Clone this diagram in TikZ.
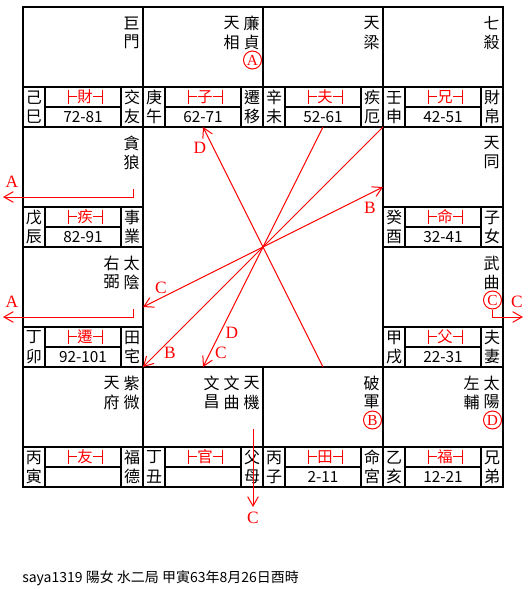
\documentclass[tikz,border=0pt]{standalone}
\usepackage{fontspec}
\setmainfont{Noto Sans CJK TC}
\newfontfamily\lat{Liberation Serif}
\usetikzlibrary{arrows.meta}
\begin{document}
\begin{tikzpicture}[x=0.75pt,y=-0.75pt,
  grid/.style={line width=1.5pt},
  redl/.style={red, line width=0.75pt},
  barb/.tip={Straight Barb[length=7pt,width=8pt]},
  redarrow/.style={redl, -barb},
  ch/.style={inner sep=0pt, font=\fontsize{12pt}{12pt}\selectfont},
  num/.style={inner sep=0pt, font=\fontsize{11.5pt}{12pt}\selectfont},
  pal/.style={inner sep=0pt, text=red, font=\fontsize{11.5pt}{12pt}\selectfont},
  lbl/.style={inner sep=0pt, text=red, font=\lat\fontsize{13pt}{13pt}\selectfont},
  circ/.style={circle, draw=red, line width=0.75pt, minimum size=13.5pt, inner sep=0pt, text=red, font=\lat\fontsize{11.5pt}{11.5pt}\selectfont},
]
\useasboundingbox (0,0) rectangle (530,589);
\fill[white] (0,0) rectangle (530,589);
% main grid
\draw[grid] (23,7) rectangle (503,487);
\draw[grid] (143,7) -- (143,487);
\draw[grid] (383,7) -- (383,487);
\draw[grid] (263,7) -- (263,127);
\draw[grid] (263,367) -- (263,487);
\draw[grid] (23,127) -- (503,127);
\draw[grid] (23,367) -- (503,367);
\draw[grid] (23,247) -- (143,247);
\draw[grid] (383,247) -- (503,247);
% info rows
\foreach \c/\r/\a/\b/\p/\n/\u/\v in {
  0/0/己/巳/財/72-81/交/友, 1/0/庚/午/子/62-71/遷/移, 2/0/辛/未/夫/52-61/疾/厄, 3/0/壬/申/兄/42-51/財/帛,
  0/1/戊/辰/疾/82-91/事/業, 3/1/癸/酉/命/32-41/子/女,
  0/2/丁/卯/遷/92-101/田/宅, 3/2/甲/戌/父/22-31/夫/妻,
  0/3/丙/寅/友/{}/福/德, 1/3/丁/丑/官/{}/父/母, 2/3/丙/子/田/2-11/命/宮, 3/3/乙/亥/福/12-21/兄/弟}{
  \pgfmathsetmacro\L{23+120*\c}
  \pgfmathsetmacro\T{7+120*\r}
  \draw[grid] (\L,\T+80) -- (\L+120,\T+80);
  \draw[grid] (\L+22,\T+80) -- (\L+22,\T+120);
  \draw[grid] (\L+98,\T+80) -- (\L+98,\T+120);
  \draw[grid] (\L+22,\T+100) -- (\L+98,\T+100);
  \node[ch] (sa\c\r) at (\L+11,\T+90.5) {\a};
  \node[ch] (sb\c\r) at (\L+11,\T+109.5) {\b};
  \node[ch] (pu\c\r) at (\L+109,\T+90.5) {\u};
  \node[ch] (pv\c\r) at (\L+109,\T+109.5) {\v};
  \node[pal] (pp\c\r) at (\L+62,\T+90) {\p};
  \draw[redl] (\L+45,\T+82.5) -- (\L+45,\T+97);
  \draw[redl] (\L+79,\T+82.5) -- (\L+79,\T+97);
  \draw[redl] (\L+45,\T+89.7) -- (\L+54,\T+89.7);
  \draw[redl] (\L+70,\T+89.7) -- (\L+79,\T+89.7);
  \node[num] (nn\c\r) at (\L+60,\T+110) {\n};
}
% stars
\foreach \R/\T/\k/\x/\y [count=\i] in {
  143/7/0/巨/門, 263/7/0/廉/貞, 263/7/1/天/相, 383/7/0/天/梁, 503/7/0/七/殺,
  143/127/0/貪/狼, 503/127/0/天/同,
  143/247/0/太/陰, 143/247/1/右/弼, 503/247/0/武/曲,
  143/367/0/紫/微, 143/367/1/天/府, 263/367/0/天/機, 263/367/1/文/曲, 263/367/2/文/昌,
  383/367/0/破/軍, 503/367/0/太/陽, 503/367/1/左/輔}{
  \node[ch] (st\i a) at (\R-11.5-20*\k,\T+16) {\x};
  \node[ch] (st\i b) at (\R-11.5-20*\k,\T+35) {\y};
}
% circled letters
\node[circ] (cA) at (252.5,60) {A};
\node[circ] (cC) at (492.5,300) {C};
\node[circ] (cB) at (372.5,420) {B};
\node[circ] (cD) at (492.5,420) {D};
% center lines
\coordinate (ctr) at (263,247);
\coordinate (d1) at (203,127);
\coordinate (d1b) at (323,367);
\coordinate (d2a) at (323,127);
\coordinate (d2) at (203,367);
\coordinate (b1a) at (383,127);
\coordinate (b1) at (143,367);
\coordinate (c1) at (143,307);
\coordinate (b2) at (383,187);
\draw[redarrow] (d1b) -- (d1);
\draw[redarrow] (d2a) -- (d2);
\draw[redarrow] (b1a) -- (b1);
\draw[redl, barb-barb] (c1) -- (b2);
\node[lbl] (lD1) at (200,148) {D};
\node[lbl] (lD2) at (232,333) {D};
\node[lbl] (lC2) at (221,353) {C};
\node[lbl] (lB1) at (170,353) {B};
\node[lbl] (lC1) at (161,288) {C};
\node[lbl] (lB2) at (370,208) {B};
% outside arrows
\coordinate (a1s) at (133,189);
\coordinate (a1m) at (133,197);
\coordinate (a1e) at (3,197);
\draw[redarrow] (a1s) -- (a1m) -- (a1e);
\node[lbl] (lA1) at (12,182) {A};
\coordinate (a2s) at (133,309);
\coordinate (a2m) at (133,317);
\coordinate (a2e) at (3,317);
\draw[redarrow] (a2s) -- (a2m) -- (a2e);
\node[lbl] (lA2) at (12,302) {A};
\coordinate (crm) at (cC.south |- a2m);
\coordinate (cre) at (523,317);
\draw[redarrow] (cC.south) -- (crm) -- (cre);
\node[lbl] (lC3) at (517,302) {C};
\coordinate (cbs) at (253,429);
\coordinate (cbe) at (253,507);
\draw[redarrow] (cbs) -- (cbe);
\node[lbl] (lC4) at (253,518) {C};
% footer
\node[anchor=west, inner sep=0pt, font=\fontsize{10.5pt}{10.5pt}\selectfont] (foot) at (22,578) {saya1319 陽女 水二局 甲寅63年8月26日酉時};
\end{tikzpicture}
\end{document}
